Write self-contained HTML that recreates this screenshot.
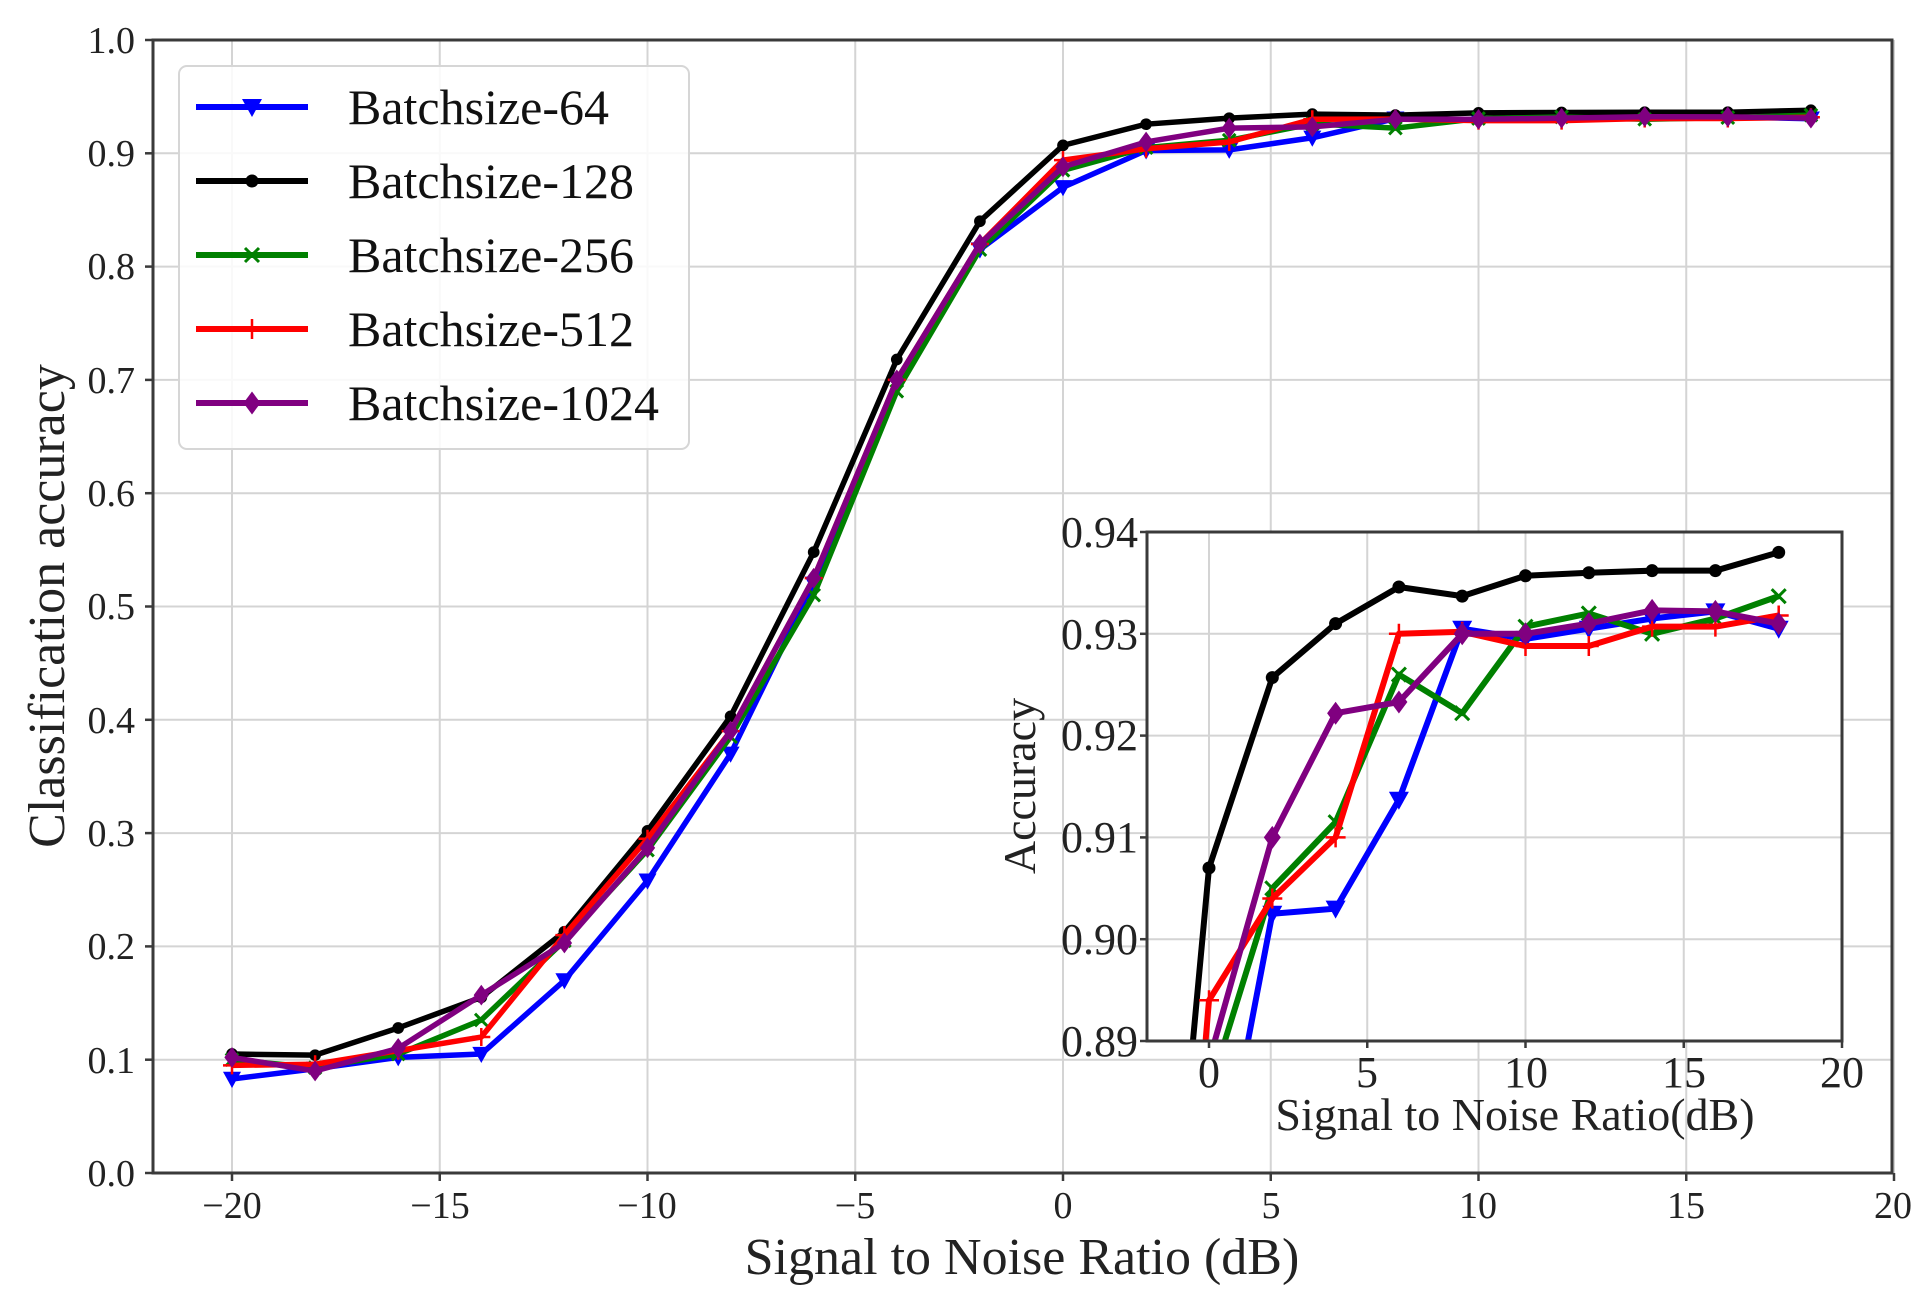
<!DOCTYPE html>
<html><head><meta charset="utf-8"><style>
html,body{margin:0;padding:0;background:#fff;width:1930px;height:1299px;overflow:hidden;}
svg{display:block;font-family:"Liberation Serif",serif;}
</style></head><body>
<svg id="s" width="1930" height="1299" viewBox="0 0 1930 1299" xmlns="http://www.w3.org/2000/svg">
<defs>
<clipPath id="cm"><rect x="153" y="40" width="1739" height="1133"/></clipPath>
<clipPath id="ci"><rect x="1147" y="532" width="695" height="509"/></clipPath>
</defs>
<g id="grid" stroke="#d4d4d4" stroke-width="2"></g>
<g id="main" clip-path="url(#cm)"></g>
<rect x="153" y="40" width="1739" height="1133" fill="none" stroke="#3a3a3a" stroke-width="3"/>
<g id="ticks" stroke="#3a3a3a" stroke-width="2.5"></g>
<g font-size="38" fill="#222" text-anchor="end">
<text x="135" y="1186">0.0</text><text x="135" y="1073">0.1</text><text x="135" y="959">0.2</text><text x="135" y="846">0.3</text><text x="135" y="733">0.4</text><text x="135" y="619">0.5</text><text x="135" y="506">0.6</text><text x="135" y="393">0.7</text><text x="135" y="279">0.8</text><text x="135" y="166">0.9</text><text x="135" y="53">1.0</text>
</g>
<g font-size="38" fill="#222" text-anchor="middle">
<text x="232" y="1218">−20</text><text x="440" y="1218">−15</text><text x="647" y="1218">−10</text><text x="855" y="1218">−5</text><text x="1063" y="1218">0</text><text x="1271" y="1218">5</text><text x="1478" y="1218">10</text><text x="1686" y="1218">15</text><text x="1893" y="1218">20</text>
</g>
<text x="1022" y="1274" font-size="52" text-anchor="middle" fill="#222">Signal to Noise Ratio (dB)</text>
<text transform="translate(64,606) rotate(-90)" font-size="52" text-anchor="middle" fill="#222">Classification accuracy</text>

<rect x="179" y="66" width="510" height="383" rx="8" fill="#fff" fill-opacity="0.85" stroke="#d6d6d6" stroke-width="2"/>
<g id="leg"></g>
<g font-size="50" fill="#111">
<text x="348" y="124">Batchsize-64</text>
<text x="348" y="198">Batchsize-128</text>
<text x="348" y="272">Batchsize-256</text>
<text x="348" y="346">Batchsize-512</text>
<text x="348" y="420">Batchsize-1024</text>
</g>

<rect x="1147" y="532" width="695" height="509" fill="#fff"/>
<g id="igrid" stroke="#d4d4d4" stroke-width="2"></g>
<g id="ins" clip-path="url(#ci)"></g>
<rect x="1147" y="532" width="695" height="509" fill="none" stroke="#3a3a3a" stroke-width="3"/>
<g id="iticks" stroke="#3a3a3a" stroke-width="2.5"></g>
<g font-size="44" fill="#222" text-anchor="end">
<text x="1138" y="1056">0.89</text><text x="1138" y="954">0.90</text><text x="1138" y="852">0.91</text><text x="1138" y="750">0.92</text><text x="1138" y="649">0.93</text><text x="1138" y="547">0.94</text>
</g>
<g font-size="44" fill="#222" text-anchor="middle">
<text x="1209" y="1087">0</text><text x="1367" y="1087">5</text><text x="1526" y="1087">10</text><text x="1684" y="1087">15</text><text x="1842" y="1087">20</text>
</g>
<text x="1515" y="1130" font-size="46" text-anchor="middle" fill="#222">Signal to Noise Ratio(dB)</text>
<text transform="translate(1035,786) rotate(-90)" font-size="46" text-anchor="middle" fill="#222">Accuracy</text>
</svg>
<script>
var NS="http://www.w3.org/2000/svg";
function el(p,t,a){var e=document.createElementNS(NS,t);for(var k in a)e.setAttribute(k,a[k]);p.appendChild(e);return e;}
var X=function(x){return 232+(x+20)*41.55;}, Y=function(v){return 1173-v*1133;};
var Xi=function(x){return 1209+x*31.65;}, Yi=function(v){return 532+(0.94-v)*10180;};
var xs=[];for(var x=-20;x<=18;x+=2)xs.push(x);
var S=[
{c:"#0000ff",m:"tri",d:[0.083,0.092,0.102,0.105,0.170,0.258,0.370,0.520,0.700,0.815,0.870,0.9025,0.903,0.9137,0.9305,0.9295,0.9305,0.9315,0.9322,0.9305]},
{c:"#000000",m:"circ",d:[0.105,0.104,0.128,0.155,0.213,0.302,0.403,0.548,0.718,0.840,0.907,0.9257,0.931,0.9346,0.9337,0.9357,0.936,0.9362,0.9362,0.938]},
{c:"#008000",m:"x",d:[0.100,0.093,0.105,0.135,0.205,0.285,0.385,0.510,0.690,0.815,0.885,0.905,0.9115,0.926,0.9222,0.9307,0.932,0.930,0.9315,0.9337]},
{c:"#ff0000",m:"plus",d:[0.095,0.096,0.108,0.120,0.210,0.295,0.390,0.525,0.700,0.820,0.894,0.904,0.910,0.930,0.9302,0.9288,0.9288,0.9307,0.9307,0.9318]},
{c:"#800080",m:"dia",d:[0.102,0.090,0.110,0.157,0.203,0.287,0.390,0.525,0.700,0.820,0.888,0.910,0.9222,0.9233,0.930,0.930,0.931,0.9323,0.9322,0.931]}
];
function marker(g,m,c,x,y,s){
 if(m=="tri")el(g,"polygon",{points:(x-s)+","+(y-s*0.8)+" "+(x+s)+","+(y-s*0.8)+" "+x+","+(y+s),fill:c});
 else if(m=="circ")el(g,"circle",{cx:x,cy:y,r:s*0.65,fill:c});
 else if(m=="dia")el(g,"polygon",{points:x+","+(y-s*1.15)+" "+(x+s*0.85)+","+y+" "+x+","+(y+s*1.15)+" "+(x-s*0.85)+","+y,fill:c});
 else if(m=="x"){el(g,"path",{d:"M"+(x-s*0.7)+","+(y-s*0.7)+"L"+(x+s*0.7)+","+(y+s*0.7)+"M"+(x-s*0.7)+","+(y+s*0.7)+"L"+(x+s*0.7)+","+(y-s*0.7),stroke:c,"stroke-width":3});}
 else if(m=="plus"){el(g,"path",{d:"M"+x+","+(y-s)+"L"+x+","+(y+s)+"M"+(x-s)+","+y+"L"+(x+s)+","+y,stroke:c,"stroke-width":2.5});}
}
var grid=document.getElementById("grid"),tk=document.getElementById("ticks");
for(var v=0;v<=10;v++){var y=Y(v/10);el(grid,"line",{x1:153,x2:1892,y1:y,y2:y});el(tk,"line",{x1:145,x2:153,y1:y,y2:y});}
for(var x=-20;x<=20;x+=5){var px=X(x);el(grid,"line",{x1:px,x2:px,y1:40,y2:1173});el(tk,"line",{x1:px,x2:px,y1:1173,y2:1181});}
var ig=document.getElementById("igrid"),it=document.getElementById("iticks");
for(var k=0;k<=5;k++){var y=Yi(0.89+k*0.01);el(ig,"line",{x1:1147,x2:1842,y1:y,y2:y});el(it,"line",{x1:1140,x2:1147,y1:y,y2:y});}
for(var x=0;x<=20;x+=5){var px=Xi(x);el(ig,"line",{x1:px,x2:px,y1:532,y2:1041});el(it,"line",{x1:px,x2:px,y1:1041,y2:1048});}
var mg=document.getElementById("main"),ins=document.getElementById("ins"),lg=document.getElementById("leg");
var ly=[107,181,255,329,403];
S.forEach(function(s,i){
 var p=[],q=[];
 for(var j=0;j<xs.length;j++){p.push(X(xs[j])+","+Y(s.d[j]));q.push(Xi(xs[j])+","+Yi(s.d[j]));}
 el(mg,"polyline",{points:p.join(" "),fill:"none",stroke:s.c,"stroke-width":5.5,"stroke-linejoin":"round"});
 for(var j=0;j<xs.length;j++)marker(mg,s.m,s.c,X(xs[j]),Y(s.d[j]),9);
 el(ins,"polyline",{points:q.join(" "),fill:"none",stroke:s.c,"stroke-width":6,"stroke-linejoin":"round"});
 for(var j=0;j<xs.length;j++)marker(ins,s.m,s.c,Xi(xs[j]),Yi(s.d[j]),10);
 el(lg,"line",{x1:196,x2:308,y1:ly[i],y2:ly[i],stroke:s.c,"stroke-width":6});
 marker(lg,s.m,s.c,252,ly[i],10);
});
</script>
</body></html>
